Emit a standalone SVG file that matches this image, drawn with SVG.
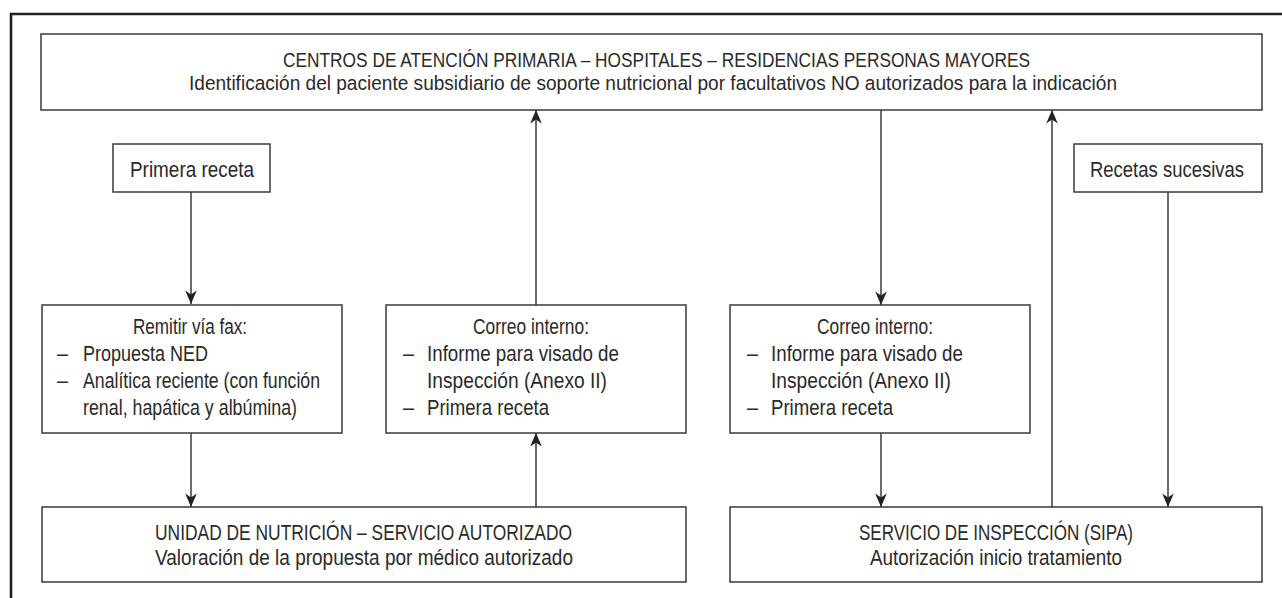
<svg xmlns="http://www.w3.org/2000/svg" width="1282" height="598" viewBox="0 0 1282 598">
<defs>
<style>
.box{fill:#fff;stroke:#3a3a3a;stroke-width:1.5}
.t{font-family:"Liberation Sans",Arial,sans-serif;font-size:22.5px;fill:#2a2a2a}
.h{font-size:20.5px}
.c{text-anchor:middle}
.ln{stroke:#3a3a3a;stroke-width:1.5;fill:none}
</style>
<marker id="ah" viewBox="-15 -7 16 14" refX="0" refY="0" markerWidth="16" markerHeight="14" markerUnits="userSpaceOnUse" orient="auto">
<path d="M0,0 L-13.5,-5.8 L-9.5,0 L-13.5,5.8 Z" fill="#222"/>
</marker>
</defs>
<rect width="1282" height="598" fill="#fff"/>
<path d="M11,600 V14 H1290" fill="none" stroke="#222" stroke-width="2.6"/>

<g id="connectors">
<line class="ln" x1="191" y1="192" x2="191" y2="304" marker-end="url(#ah)"/>
<line class="ln" x1="191" y1="433" x2="191" y2="507" marker-end="url(#ah)"/>
<line class="ln" x1="536" y1="507" x2="536" y2="433" marker-end="url(#ah)"/>
<line class="ln" x1="536" y1="305" x2="536" y2="110" marker-end="url(#ah)"/>
<line class="ln" x1="881" y1="110" x2="881" y2="305" marker-end="url(#ah)"/>
<line class="ln" x1="881" y1="433" x2="881" y2="507" marker-end="url(#ah)"/>
<line class="ln" x1="1052" y1="507" x2="1052" y2="110" marker-end="url(#ah)"/>
<line class="ln" x1="1168" y1="192" x2="1168" y2="507" marker-end="url(#ah)"/>
</g>

<g id="top">
<rect class="box" x="41" y="34" width="1221" height="76"/>
<text class="t h c" x="656.5" y="66.5" textLength="747" lengthAdjust="spacingAndGlyphs">CENTROS DE ATENCIÓN PRIMARIA – HOSPITALES – RESIDENCIAS PERSONAS MAYORES</text>
<text class="t h c" x="653" y="89.5" textLength="928" lengthAdjust="spacingAndGlyphs">Identificación del paciente subsidiario de soporte nutricional por facultativos NO autorizados para la indicación</text>
</g>

<g id="primera">
<rect class="box" x="113" y="144" width="157" height="48"/>
<text class="t c" x="192" y="176.5" textLength="124" lengthAdjust="spacingAndGlyphs">Primera receta</text>
</g>

<g id="sucesivas">
<rect class="box" x="1074" y="144" width="188" height="48"/>
<text class="t c" x="1167" y="176.5" textLength="154" lengthAdjust="spacingAndGlyphs">Recetas sucesivas</text>
</g>

<g id="remitir">
<rect class="box" x="42" y="305" width="300" height="128"/>
<text class="t c" x="190" y="334" textLength="114" lengthAdjust="spacingAndGlyphs">Remitir vía fax:</text>
<text class="t" x="57" y="361" textLength="11" lengthAdjust="spacingAndGlyphs">–</text>
<text class="t" x="83" y="361" textLength="125" lengthAdjust="spacingAndGlyphs">Propuesta NED</text>
<text class="t" x="57" y="388" textLength="11" lengthAdjust="spacingAndGlyphs">–</text>
<text class="t" x="83" y="388" textLength="237" lengthAdjust="spacingAndGlyphs">Analítica reciente (con función</text>
<text class="t" x="83" y="415" textLength="214" lengthAdjust="spacingAndGlyphs">renal, hapática y albúmina)</text>
</g>

<g id="correo1">
<rect class="box" x="386" y="305" width="300" height="128"/>
<text class="t c" x="531" y="334" textLength="116" lengthAdjust="spacingAndGlyphs">Correo interno:</text>
<text class="t" x="403" y="361" textLength="11" lengthAdjust="spacingAndGlyphs">–</text>
<text class="t" x="427" y="361" textLength="192" lengthAdjust="spacingAndGlyphs">Informe para visado de</text>
<text class="t" x="427" y="388" textLength="180" lengthAdjust="spacingAndGlyphs">Inspección (Anexo II)</text>
<text class="t" x="403" y="415" textLength="11" lengthAdjust="spacingAndGlyphs">–</text>
<text class="t" x="427" y="415" textLength="122" lengthAdjust="spacingAndGlyphs">Primera receta</text>
</g>

<g id="correo2">
<rect class="box" x="730" y="305" width="300" height="128"/>
<text class="t c" x="875" y="334" textLength="116" lengthAdjust="spacingAndGlyphs">Correo interno:</text>
<text class="t" x="747" y="361" textLength="11" lengthAdjust="spacingAndGlyphs">–</text>
<text class="t" x="771" y="361" textLength="192" lengthAdjust="spacingAndGlyphs">Informe para visado de</text>
<text class="t" x="771" y="388" textLength="180" lengthAdjust="spacingAndGlyphs">Inspección (Anexo II)</text>
<text class="t" x="747" y="415" textLength="11" lengthAdjust="spacingAndGlyphs">–</text>
<text class="t" x="771" y="415" textLength="122" lengthAdjust="spacingAndGlyphs">Primera receta</text>
</g>

<g id="unidad">
<rect class="box" x="42" y="507" width="644" height="75"/>
<text class="t c" x="363.5" y="539.5" textLength="417" lengthAdjust="spacingAndGlyphs">UNIDAD DE NUTRICIÓN – SERVICIO AUTORIZADO</text>
<text class="t c" x="364" y="565" textLength="418" lengthAdjust="spacingAndGlyphs">Valoración de la propuesta por médico autorizado</text>
</g>

<g id="sipa">
<rect class="box" x="730" y="507" width="532" height="75"/>
<text class="t c" x="996" y="539.5" textLength="274" lengthAdjust="spacingAndGlyphs">SERVICIO DE INSPECCIÓN (SIPA)</text>
<text class="t c" x="996" y="565" textLength="252" lengthAdjust="spacingAndGlyphs">Autorización inicio tratamiento</text>
</g>
</svg>
